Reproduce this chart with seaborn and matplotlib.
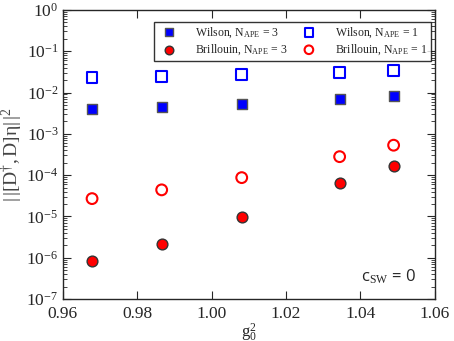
import matplotlib
matplotlib.use("Agg")
import matplotlib.pyplot as plt
import seaborn as sns
import numpy as np
import pandas as pd

g0sq = [0.9679, 0.9866, 1.0081, 1.0344, 1.0489]
wilson_ape3 = [0.0040, 0.0045, 0.0052, 0.0068, 0.0084]
wilson_ape1 = [0.023, 0.0247, 0.0272, 0.031, 0.034]
brill_ape3 = [8.5e-7, 2.2e-6, 9.5e-6, 6.6e-5, 1.67e-4]
brill_ape1 = [2.7e-5, 4.4e-5, 8.7e-5, 2.8e-4, 5.3e-4]

sns.set_style("ticks")
plt.rcParams['font.family'] = ['Liberation Serif', 'DejaVu Serif']
plt.rcParams['mathtext.fontset'] = 'custom'
plt.rcParams['mathtext.rm'] = 'Liberation Serif'
plt.rcParams['mathtext.it'] = 'Liberation Serif:italic'
plt.rcParams['mathtext.bf'] = 'Liberation Serif:bold'
plt.rcParams['axes.unicode_minus'] = True

fig = plt.figure(figsize=(4.54, 3.41), dpi=100)
ax = fig.add_axes([0.138, 0.123, 0.82, 0.848])

series = [
    (wilson_ape3, "Wilson, N$_{\\mathrm{APE}}$ = 3", "s", "#0000ff", "#555555", 1.0),
    (brill_ape3, "Brillouin, N$_{\\mathrm{APE}}$ = 3", "o", "#ff0000", "#333333", 1.0),
    (wilson_ape1, "Wilson, N$_{\\mathrm{APE}}$ = 1", "s", "none", "#0000ff", 1.5),
    (brill_ape1, "Brillouin, N$_{\\mathrm{APE}}$ = 1", "o", "none", "#ff0000", 1.5),
]
for vals, lab, mk, fc, ec, lw in series:
    df = pd.DataFrame({"x": g0sq, "y": vals})
    sns.scatterplot(data=df, x="x", y="y", ax=ax, marker=mk, s=60,
                    facecolor=fc, edgecolor=ec, linewidth=lw, label=lab, zorder=3)

ax.set_yscale("log")
ax.set_xlim(0.96, 1.06)
ax.set_ylim(1e-7, 1)
ax.set_xticks([0.96, 0.98, 1.00, 1.02, 1.04, 1.06])
ax.set_xticklabels(["0.96", "0.98", "1.00", "1.02", "1.04", "1.06"])
ax.set_yticks([10.0**k for k in range(-7, 1)])
ax.yaxis.set_minor_locator(matplotlib.ticker.LogLocator(base=10, subs=np.arange(2, 10), numticks=20))
ax.yaxis.set_minor_formatter(matplotlib.ticker.NullFormatter())
ax.tick_params(which="both", direction="in", top=True, right=True, labelsize=12.5)
ax.tick_params(which="major", length=6, width=0.8, pad=3)
ax.tick_params(axis="x", which="major", pad=5)
ax.tick_params(which="minor", length=3, width=0.6)
for sp in ax.spines.values():
    sp.set_linewidth(1.0)

ax.set_xlabel("$\\mathrm{g}_0^2$", fontsize=12, labelpad=0)
ax.set_ylabel("$|\\,|[\\mathrm{D}^{\\dagger}, \\mathrm{D}]\\mathrm{\\eta}|\\,|^2$", fontsize=14,
              color="#444444", labelpad=1)

leg = ax.legend(loc="upper right", ncol=2, fontsize=8.5, frameon=True, fancybox=False,
                edgecolor="black", borderpad=0.3, handletextpad=1.2, columnspacing=0.8,
                labelspacing=0.25, bbox_to_anchor=(1.005, 0.98), markerscale=0.8)
leg.get_frame().set_linewidth(1.0)

ax.text(0.875, 0.045, "c$_{\\mathrm{SW}}$ = 0", transform=ax.transAxes, ha="center", va="bottom",
        fontsize=12, family=["Open Sans", "DejaVu Sans"])

fig.savefig("out.png", dpi=100)
